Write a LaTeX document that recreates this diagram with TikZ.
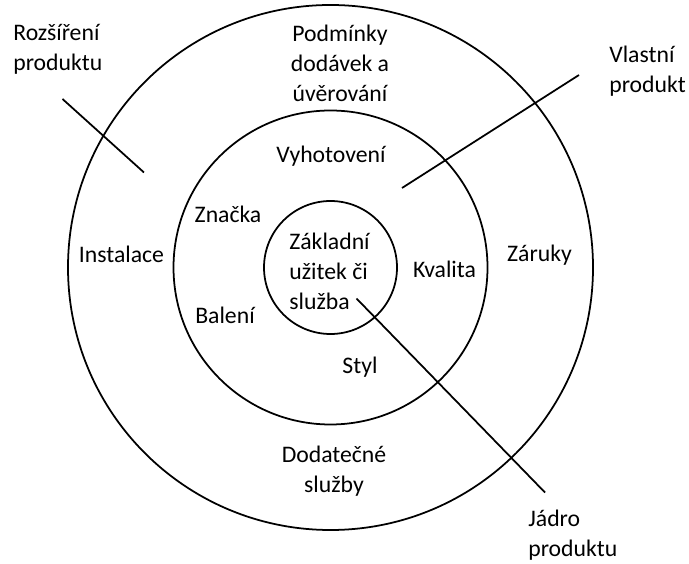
\documentclass[tikz,border=0pt]{standalone}
\usepackage{fontspec}
\setmainfont{Carlito}
\usetikzlibrary{positioning}

\begin{document}
\begin{tikzpicture}[
  ring/.style={draw,circle,line width=1pt,inner sep=0pt,outer sep=0pt},
  lbl/.style={font=\fontsize{13.5pt}{17pt}\selectfont,inner sep=0pt,align=center},
  side/.style={lbl,anchor=west,align=left},
  pointer/.style={line width=1pt}]
\useasboundingbox (0,0) rectangle (13.78,11.26);
\node[ring,minimum size=10.5cm] (outer) at (6.61,5.91) {};
\node[ring,minimum size=6.28cm] (middle) at (6.61,5.91) {};
\node[ring,minimum size=2.66cm] (inner) at (6.61,5.91) {};
\node[side] (rozsireni) at (0.26,10.27) {Rozšíření\\produktu};
\node[lbl] (podminky) at (6.80,9.99) {Podmínky\\dodávek a\\úvěrování};
\node[side] (vlastni) at (12.18,9.84) {Vlastní\\produkt};
\node[lbl] (vyhotoveni) at (6.62,8.14) {Vyhotovení};
\node[lbl] (znacka) at (4.56,6.98) {Značka};
\node[lbl] (instalace) at (2.43,6.18) {Instalace};
\node[side] (zakladni) at (5.78,5.84) {Základní\\užitek či\\služba};
\node[lbl] (kvalita) at (8.89,5.88) {Kvalita};
\node[lbl] (zaruky) at (10.79,6.15) {Záruky};
\node[lbl] (baleni) at (4.50,4.96) {Balení};
\node[lbl] (styl) at (7.20,3.92) {Styl};
\node[lbl] (dodatecne) at (6.68,1.84) {Dodatečné\\služby};
\node[side] (jadro) at (10.56,0.56) {Jádro\\produktu};
\coordinate (r1) at (1.25,9.28);
\coordinate (r2) at (2.88,7.81);
\coordinate (v1) at (11.58,9.76);
\coordinate (v2) at (8.04,7.50);
\coordinate (j1) at (7.13,5.29);
\coordinate (j2) at (10.90,1.41);
\draw[pointer] (r1) -- (r2);
\draw[pointer] (v1) -- (v2);
\draw[pointer] (j1) -- (j2);
\end{tikzpicture}
\end{document}
